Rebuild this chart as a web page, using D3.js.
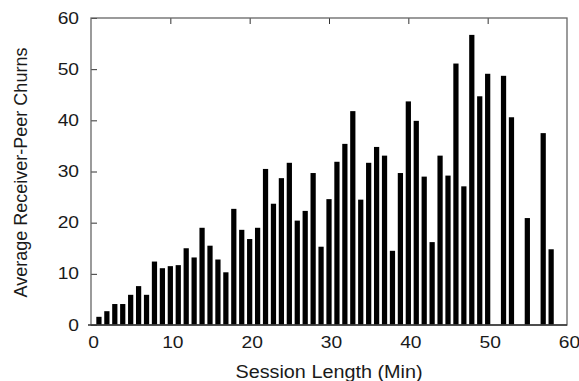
<!DOCTYPE html>
<html>
<head>
<meta charset="utf-8">
<script src="https://cdn.jsdelivr.net/npm/d3@7"></script>
<style>
  body { margin: 0; background: #fff; }
  text { font-family: "Liberation Sans", Arial, sans-serif; fill: #1a1a1a; }
</style>
</head>
<body>
<svg id="chart" width="579" height="381"></svg>
<script>
// session length in minutes, average receiver-peer churns
const minutes = [1, 2, 3, 4, 5, 6, 7, 8, 9, 10, 11, 12, 13, 14, 15, 16, 17, 18, 19, 20,
  21, 22, 23, 24, 25, 26, 27, 28, 29, 30, 31, 32, 33, 34, 35, 36, 37, 38, 39, 40,
  41, 42, 43, 44, 45, 46, 47, 48, 49, 50, 52, 53, 55, 57, 58];
const churns = [1.6, 2.7, 4.1, 4.1, 5.9, 7.6, 5.9, 12.4, 11.1, 11.5, 11.7, 15.0, 13.2, 19.0, 15.5, 12.8, 10.3, 22.7, 18.6, 16.8,
  19.0, 30.5, 23.7, 28.7, 31.7, 20.4, 22.3, 29.7, 15.3, 24.6, 31.9, 35.4, 41.8, 24.5, 31.7, 34.8, 33.1, 14.5, 29.7, 43.7,
  39.9, 29.0, 16.2, 33.1, 29.2, 51.1, 27.1, 56.7, 44.7, 49.1, 48.7, 40.6, 20.9, 37.5, 14.8];
const xTicks = [0, 10, 20, 30, 40, 50, 60];
const yTicks = [0, 10, 20, 30, 40, 50, 60];

const margin = { left: 91, top: 18, right: 12, bottom: 56 };
const width = 579 - margin.left - margin.right;
const height = 381 - margin.top - margin.bottom;

let svg = d3.select("#chart");
let g = svg.append("g").attr("transform", `translate(${margin.left},${margin.top})`);

let x = d3.scaleLinear().domain([0, 60]).range([0, width]);
let y = d3.scaleLinear().domain([0, 60]).range([height, 0]);
const barW = (x(1) - x(0)) * 0.66;

// the original text is a bit wider than plain Arial
function widen(sel, k) {
  sel.each(function () {
    let w = this.getComputedTextLength();
    d3.select(this).attr("textLength", w * k).attr("lengthAdjust", "spacingAndGlyphs");
  });
}

g.selectAll("rect.bar")
  .data(minutes)
  .enter()
  .append("rect")
  .attr("class", "bar")
  .attr("x", (d) => x(d) - barW / 2)
  .attr("y", (d, i) => y(churns[i]))
  .attr("width", barW)
  .attr("height", (d, i) => y(0) - y(churns[i]))
  .attr("fill", "#000");

// bottom axis labels
let xAxis = g.append("g")
  .attr("transform", `translate(0,${height})`)
  .call(d3.axisBottom(x).tickValues(xTicks).tickSize(0).tickPadding(12));
xAxis.select(".domain").remove();
xAxis.selectAll("text").style("font-size", "16px").attr("font-family", null)
  .attr("dx", 2);
widen(xAxis.selectAll("text"), 1.2);

// left axis, ticks inside
let yAxis = g.append("g")
  .call(d3.axisLeft(y).tickValues(yTicks).tickSize(-6).tickPadding(12));
yAxis.select(".domain").remove();
yAxis.selectAll("line").attr("stroke", "#333");
yAxis.selectAll("text").style("font-size", "16px").attr("font-family", null);
widen(yAxis.selectAll("text"), 1.2);

// top axis ticks (mirror)
let topAxis = g.append("g")
  .call(d3.axisTop(x).tickValues(xTicks.slice(1, -1)).tickSize(-6).tickFormat(""));
topAxis.select(".domain").remove();
topAxis.selectAll("line").attr("stroke", "#333");

// frame
g.append("rect")
  .attr("x", 0)
  .attr("y", 0)
  .attr("width", width)
  .attr("height", height)
  .attr("fill", "none")
  .attr("stroke", "#666")
  .attr("stroke-width", 1.3);
g.append("line")
  .attr("x1", -3).attr("x2", width)
  .attr("y1", height).attr("y2", height)
  .attr("stroke", "#333").attr("stroke-width", 1.3);

let xTitle = svg.append("text")
  .attr("x", margin.left + width / 2)
  .attr("y", 378)
  .attr("text-anchor", "middle")
  .style("font-size", "18px")
  .text("Session Length (Min)");
widen(xTitle, 1.1);

let yTitle = svg.append("text")
  .attr("transform", `translate(27,${margin.top + height / 2 + 1}) rotate(-90)`)
  .attr("text-anchor", "middle")
  .style("font-size", "18px")
  .text("Average Receiver-Peer Churns");
</script>
</body>
</html>
